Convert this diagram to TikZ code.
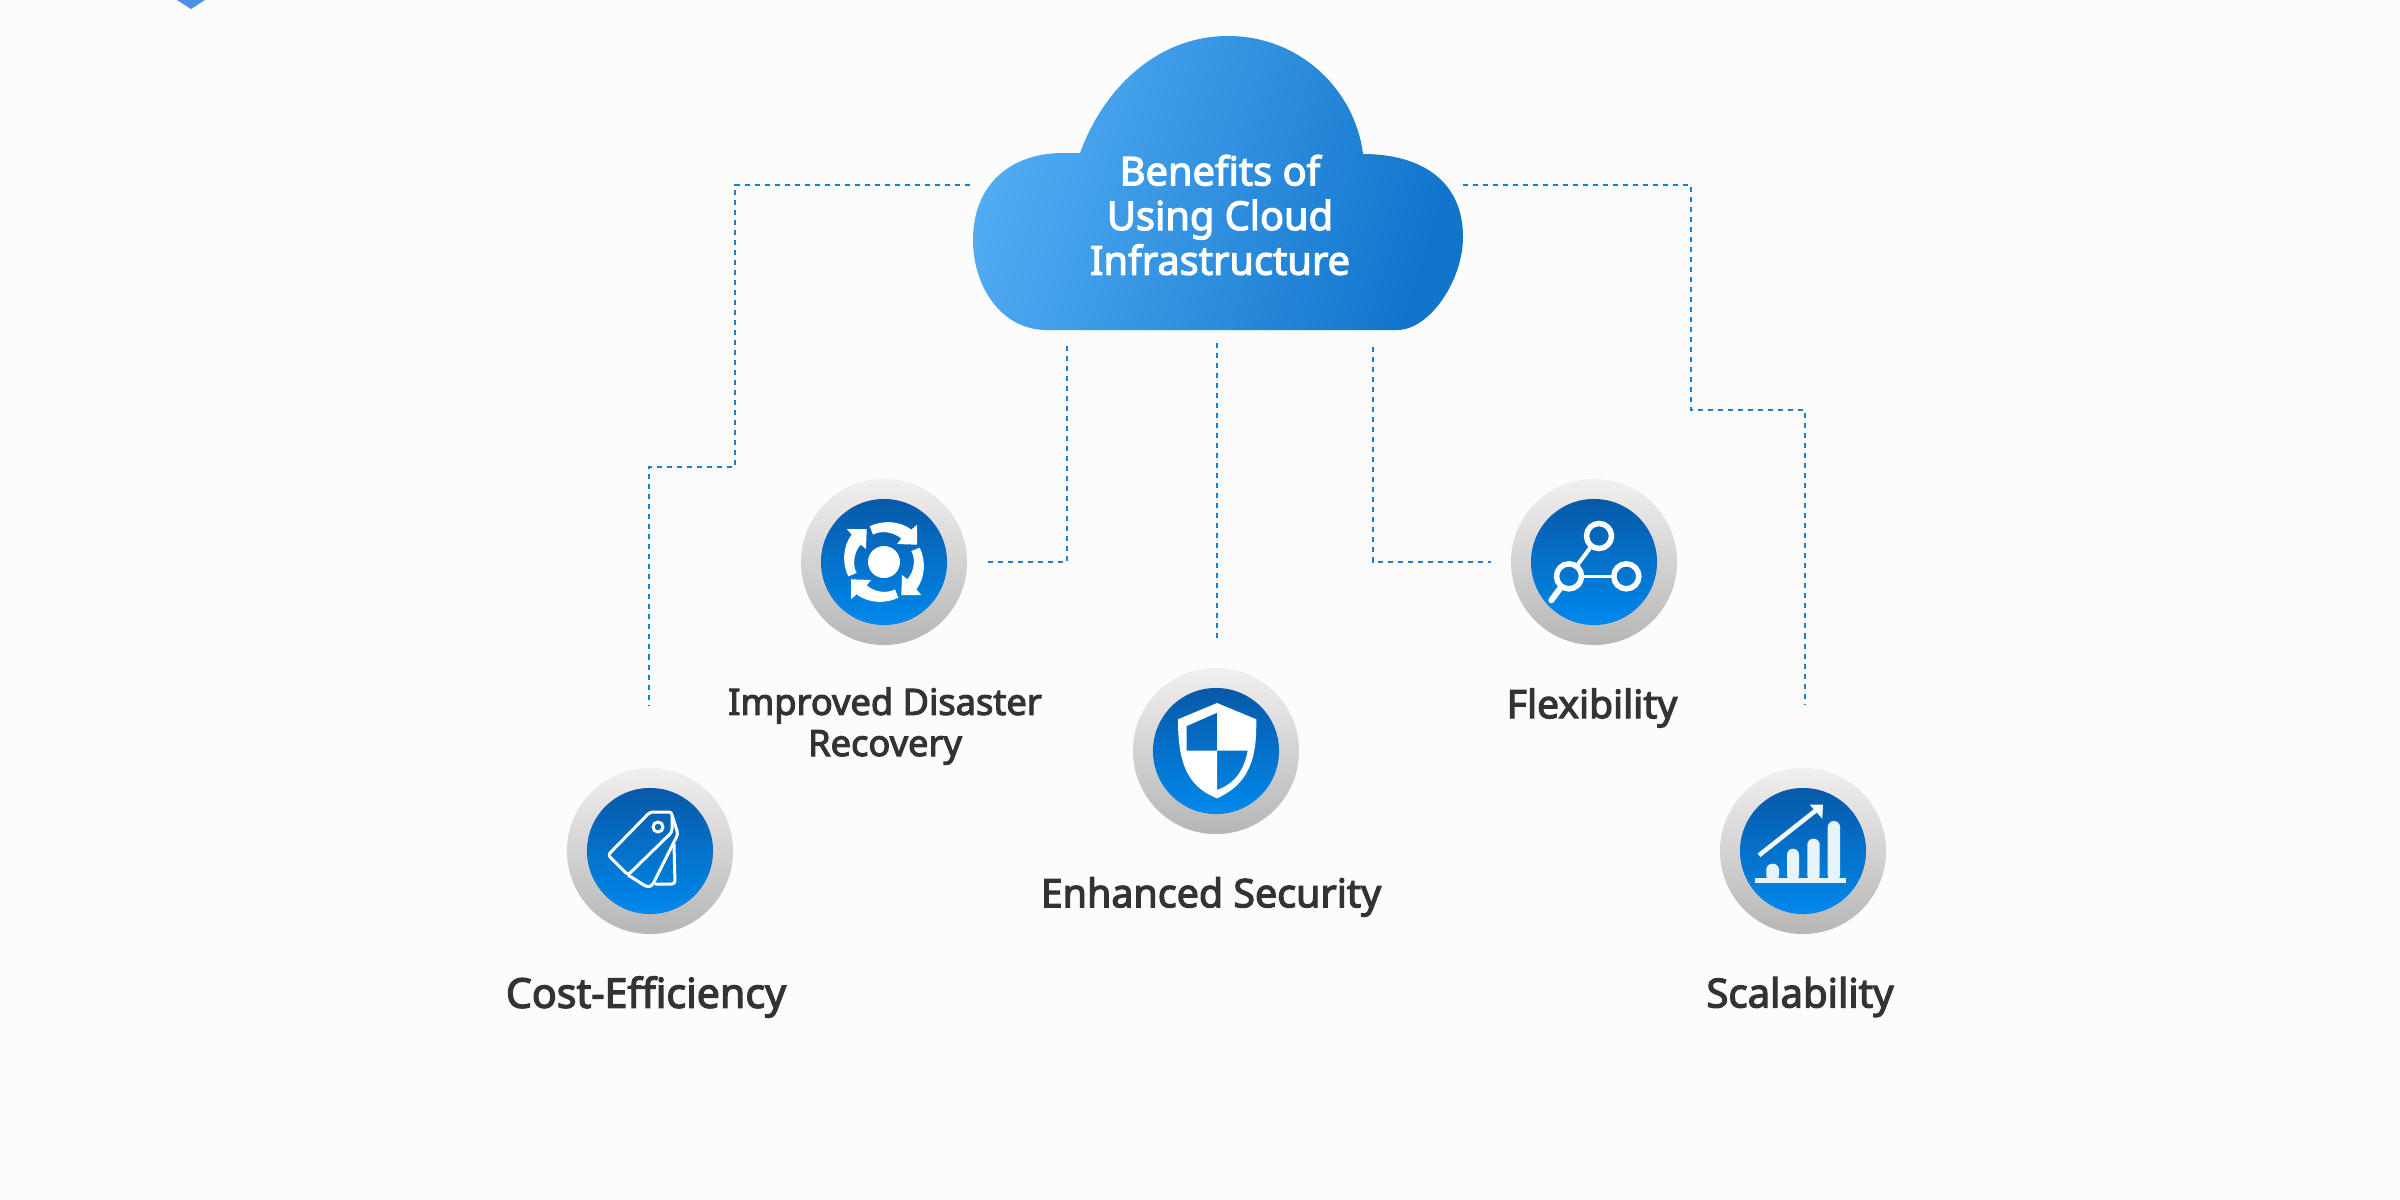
\documentclass[tikz,border=0pt]{standalone}
\usepackage{fontspec}
\setmainfont[FakeBold=3]{Noto Sans}
\usepackage{tikz}
\definecolor{pagebg}{HTML}{FCFCFC}
\definecolor{linkblue}{HTML}{1C80D2}
\definecolor{labelgray}{HTML}{333333}
\definecolor{cloudlight}{HTML}{52ACF3}
\definecolor{cloudmid}{HTML}{3C9AE7}
\definecolor{clouddark}{HTML}{1175CC}
\definecolor{ringtop}{HTML}{F2EFEF}
\definecolor{ringmid}{HTML}{D6D4D4}
\definecolor{ringlow}{HTML}{B6B6B6}
\definecolor{disctop}{HTML}{0859A8}
\definecolor{discmid}{HTML}{0270CC}
\definecolor{disclow}{HTML}{0089EC}
\definecolor{barwhite}{HTML}{E8F4FC}
\definecolor{markblue}{HTML}{4A90E0}
\tikzset{
  link/.style={linkblue,line width=0.027cm,dash pattern=on 0.05cm off 0.05cm},
  iconring/.style={circle,inner sep=0pt,minimum size=1.66cm,top color=ringtop,middle color=ringmid,bottom color=ringlow},
  icondisc/.style={circle,inner sep=0pt,minimum size=1.26cm,top color=disctop,middle color=discmid,bottom color=disclow},
  itemlabel/.style={align=center,text=labelgray,font=\fontsize{#1}{11.7}\selectfont},
  titlelabel/.style={align=center,text=white,font=\fontsize{11.3}{12.7}\selectfont},
  flexdot/.style={circle,draw=white,line width=0.055cm,inner sep=0pt,minimum size=0.25cm}
}
\begin{document}
\begin{tikzpicture}[x=0.01cm,y=-0.01cm]
\useasboundingbox (0,0) rectangle (2400,1200);
\fill[pagebg] (0,0) rectangle (2400,1200);
\fill[markblue] (177,0) -- (205,0) -- (191,9) -- cycle;
\shade[left color=cloudlight,middle color=cloudmid,right color=clouddark,shading angle=72]
  (1047,330) .. controls (1000,330) and (973,285) .. (973,240)
  .. controls (973,185) and (1010,153) .. (1063,153) -- (1080,153)
  .. controls (1105,85) and (1160,36) .. (1228,36)
  .. controls (1300,36) and (1355,90) .. (1363,154)
  .. controls (1420,154) and (1463,180) .. (1463,237)
  .. controls (1463,280) and (1430,330) .. (1397,330) -- cycle;
\node[titlelabel] (cloudtitle) at (1220,215) {Benefits of\\Using Cloud\\Infrastructure};
\foreach \n/\px/\py in {cost/650/851,recovery/884/562,security/1216/751,flex/1594/562,scale/1803/851}{
  \node[iconring] (\n) at (\px,\py) {};
  \node[icondisc] (\n disc) at (\n) {};
}
\node[itemlabel=11.7] (costlabel) at (646,997) {Cost-Efficiency};
\node[itemlabel=10.3] (recoverylabel) at (885,726) {Improved Disaster\\Recovery};
\node[itemlabel=11.2] (securitylabel) at (1211,897) {Enhanced Security};
\node[itemlabel=11.1] (flexlabel) at (1592,708) {Flexibility};
\node[itemlabel=11.4] (scalelabel) at (1800,997) {Scalability};
\coordinate (cloudwest) at (970,185);
\coordinate (cloudeast) at (1463,185);
\coordinate (cloudleft) at (1067,346);
\coordinate (cloudcentre) at (1217,343);
\coordinate (cloudright) at (1373,347);
\coordinate (costend) at (649,706);
\coordinate (recoveryend) at (987,562);
\coordinate (securityend) at (1217,643);
\coordinate (flexend) at (1491,562);
\coordinate (scaleend) at (1805,704);
\draw[link] (cloudwest) -| (735,467) -| (costend);
\draw[link] (cloudleft) |- (recoveryend);
\draw[link] (cloudcentre) -- (securityend);
\draw[link] (cloudright) |- (flexend);
\draw[link] (cloudeast) -| (1691,410) -| (scaleend);
\begin{scope}[shift={(cost)},draw=white,line width=0.03cm,line join=round,rounded corners=0.03cm]
\draw (-42,4) -- (0,-39) -- (22,-39) -- (22,-19) -- (-22,24) -- cycle;
\draw (22,-36) -- (28,-17) -- (2,35) -- (-3,36) -- (-22,24);
\draw (24,-7) -- (25,33) -- (5,33);
\draw[sharp corners] (8,-24) circle[radius=5];
\end{scope}
\begin{scope}[shift={(recovery)}]
\fill[white] (0,0) circle[radius=16];
\foreach \a in {0,90,180,270}{
  \fill[white,rotate=\a] (-14.3,-35.7) .. controls (-3,-41.5) and (15,-42) .. (27.3,-32.3) -- (33,-37.3) -- (33,-17.3) -- (13,-18) -- (17.3,-23.3) .. controls (10,-30) and (-3,-32) .. (-11,-27.3) -- cycle;
}
\end{scope}
\begin{scope}[shift={(security)}]
\fill[white,even odd rule] (1,-48) -- (40.3,-31.7) .. controls (40.3,-5) and (40,30) .. (1,47.3) .. controls (-30,35) and (-38,10) .. (-38,-31.7) -- cycle
  (1,-38.3) -- (1,-0.3) -- (-29.3,-0.3) -- (-29.3,-25) -- cycle
  (1,-0.3) -- (31.7,-0.3) .. controls (28,20) and (18,33) .. (1,39) -- cycle;
\end{scope}
\begin{scope}[shift={(flex)}]
\node[flexdot] (flextop) at (5,-26) {};
\node[flexdot] (flexleft) at (-25,14.3) {};
\node[flexdot] (flexright) at (32.3,14.3) {};
\draw[white,line width=0.04cm] (flextop) -- (flexleft);
\draw[white,line width=0.035cm] (flexleft) -- (flexright);
\coordinate (flextail) at (-42.7,38.3);
\draw[white,line width=0.06cm,line cap=round] (flexleft) -- (flextail);
\end{scope}
\begin{scope}[shift={(scale)}]
\foreach \xa/\xb/\ytop in {-36.7/-24/12.7,-16/-4/-2.3,4.3/16.7/-12.3,24.7/37/-30}{
  \fill[barwhite,rounded corners=0.06cm] (\xa,30) -- (\xa,\ytop) -- (\xb,\ytop) -- (\xb,30) -- cycle;
}
\fill[barwhite] (-48.3,26.7) rectangle (43.3,32);
\draw[barwhite!40!white,line width=0.045cm] (-44,4.3) -- (15,-42.3);
\fill[barwhite!40!white] (6.7,-46.3) -- (20,-46.3) -- (19.3,-32.3) -- cycle;
\end{scope}
\end{tikzpicture}
\end{document}
